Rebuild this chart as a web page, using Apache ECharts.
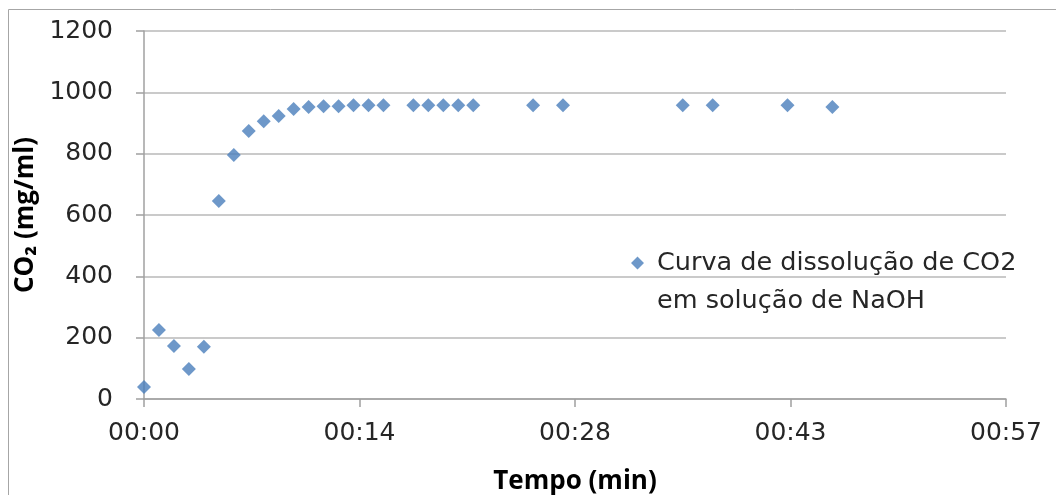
<!DOCTYPE html>
<html>
<head>
<meta charset="utf-8" />
<title>CO2 dissolução</title>
<script src="https://cdn.jsdelivr.net/npm/echarts@6/dist/echarts.min.js"></script>
<style type="text/css">
body, html {
	margin: 0;
	padding: 0;
	background: #fff;
}
#chart {
	width: 1056px;
	height: 495px;
}
</style>
</head>
<body>
<div id="chart"></div>
<script>
// tempo em minutos
let tempoMin = [0, 1, 2, 3, 4, 5, 6, 7, 8, 9, 10, 11, 12, 13, 14, 15, 16, 18, 19, 20, 21, 22, 26, 28, 36, 38, 43, 46];
// CO2 (mg/ml)
let co2 = [39, 225, 173, 98, 170, 646, 796, 874, 906, 923, 946, 952, 955, 955, 958, 958, 958, 958, 958, 958, 958, 958, 958, 958, 958, 958, 958, 952];
let serieNome = 'Curva de dissolução de CO2\nem solução de NaOH';

let pontos = [];
for (let i = 0; i < tempoMin.length; i++) {
	pontos.push([tempoMin[i], co2[i]]);
}

let fonte = '"DejaVu Sans", "Noto Sans", sans-serif';
let fonteTitulo = '"Open Sans", "Noto Sans", sans-serif';
let chart = echarts.init(document.getElementById('chart'));
chart.setOption({
	animation: false,
	//borda externa
	graphic: [{
		type: 'rect',
		shape: { x: 8.5, y: 9.5, width: 1100, height: 600 },
		style: { fill: 'none', stroke: '#a6a6a6', lineWidth: 1 },
		silent: true
	}],
	grid: {
		left: 144,
		right: 50,
		top: 31,
		bottom: 96,
		outerBoundsMode: 'none'
	},
	//icone alinhado com a primeira linha do texto
	legend: {
		left: 626,
		top: 239,
		itemWidth: 21,
		itemHeight: 76,
		itemGap: 0,
		symbolKeepAspect: false,
		icon: 'path://M0,0L0.01,0.01Z M6.5,12.5L13,19L6.5,25.5L0,19Z M20.99,75.99L21,76Z',
		textStyle: {
			fontFamily: fonte,
			fontSize: 25.5,
			color: '#262626',
			lineHeight: 38
		},
		data: [serieNome]
	},
	xAxis: {
		type: 'value',
		min: 0,
		max: 57.6,
		interval: 14.4,
		name: 'Tempo (min)',
		nameLocation: 'middle',
		nameGap: 70,
		nameTextStyle: {
			fontFamily: fonteTitulo,
			fontSize: 26,
			fontWeight: 'bold',
			color: '#000'
		},
		axisLine: { lineStyle: { color: '#a0a0a0', width: 1.5 } },
		axisTick: { show: true, length: 8, lineStyle: { color: '#a0a0a0', width: 1.5 } },
		splitLine: { show: false },
		axisLabel: {
			fontFamily: fonte,
			fontSize: 25,
			color: '#262626',
			margin: 22,
			formatter: function (v) {
				let m = Math.floor(v + 1e-6);
				return '00:' + (m < 10 ? '0' + m : m);
			}
		}
	},
	yAxis: {
		type: 'value',
		min: 0,
		max: 1200,
		interval: 200,
		name: 'CO₂ (mg/ml)',
		nameLocation: 'middle',
		nameGap: 102,
		nameRotate: 90,
		nameTextStyle: {
			fontFamily: fonteTitulo,
			fontSize: 26,
			fontWeight: 'bold',
			color: '#000'
		},
		axisLine: { show: true, lineStyle: { color: '#a0a0a0', width: 1.5 } },
		axisTick: { show: true, length: 8, lineStyle: { color: '#a0a0a0', width: 1.5 } },
		splitLine: { show: true, lineStyle: { color: '#b8b8b8', width: 1.5 } },
		axisLabel: {
			fontFamily: fonte,
			fontSize: 25,
			color: '#262626',
			margin: 31,
			formatter: function (v) {
				return String(v);
			}
		}
	},
	series: [{
		name: serieNome,
		type: 'scatter',
		symbol: 'diamond',
		symbolSize: 14,
		itemStyle: { color: '#4a7ebb' },
		data: pontos
	}]
});
</script>
</body>
</html>
